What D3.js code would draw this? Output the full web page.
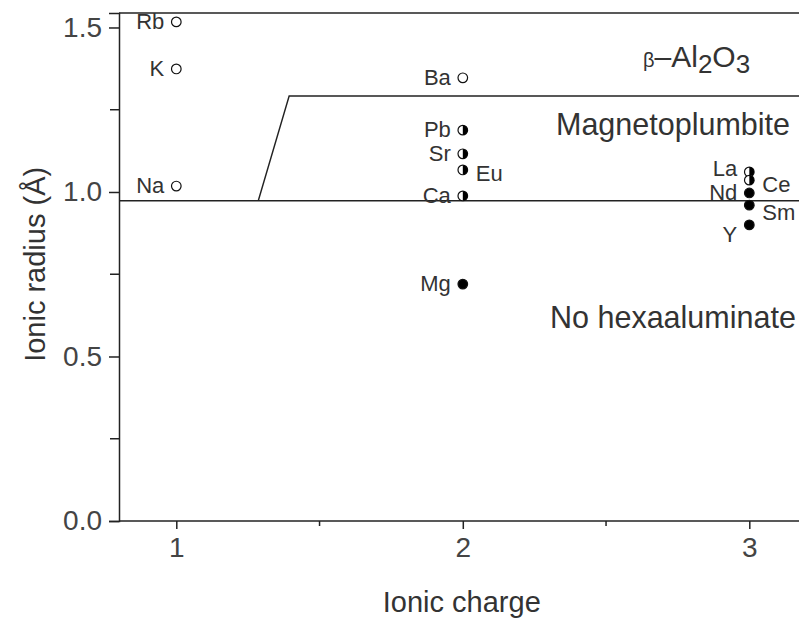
<!DOCTYPE html>
<html>
<head>
<meta charset="utf-8">
<script src="https://cdn.jsdelivr.net/npm/d3@7"></script>
<style>
  html, body { margin: 0; padding: 0; background: #fff; }
  svg { display: block; font-family: "Liberation Sans", Arial, sans-serif; }
</style>
</head>
<body>
<svg id="chart" width="799" height="624"></svg>
<script>
// Cations: charge, ionic radius (Å), marker fill type
const ions    = ["Rb", "K", "Na", "Ba", "Pb", "Sr", "Eu", "Ca", "Mg", "La", "Ce", "Nd", "Sm", "Y"];
const charges = [1, 1, 1, 2, 2, 2, 2, 2, 2, 3, 3, 3, 3, 3];
const radii   = [1.517, 1.374, 1.018, 1.347, 1.188, 1.116, 1.067, 0.988, 0.720, 1.061, 1.036, 0.997, 0.960, 0.900];
const fills   = ["open", "open", "open", "open", "half", "half", "half", "half", "full", "half", "half", "full", "full", "full"];
const labelSide = ["left", "left", "left", "left", "left", "left", "right", "left", "left", "left", "right", "left", "right", "left"];

// Field boundaries
const lowerBoundary = [[0.8, 0.973], [3.2, 0.973]];
const upperBoundary = [[1.286, 0.973], [1.394, 1.292], [3.2, 1.292]];

const xTicks = [1, 2, 3];
const xMinor = [1.5, 2.5];
const yTicks = [0.0, 0.5, 1.0, 1.5];
const yMinor = [0.25, 0.75, 1.25];

const fieldLabels = ["Magnetoplumbite", "No hexaaluminate"];

const svg = d3.select("#chart");
const ink = "#222";
const textInk = "#333";

const x = d3.scaleLinear().domain([0.8, 3.2]).range([119, 806.6]);
const y = d3.scaleLinear().domain([0, 1.544]).range([521, 13]);

// Frame (top and left edges, right edge lies outside view)
svg.append("line").attr("x1", 119).attr("x2", 799).attr("y1", y(1.544)).attr("y2", y(1.544))
  .attr("stroke", ink).attr("stroke-width", 1.5);

// Axes
const gx = svg.append("g").attr("transform", `translate(0,${y(0)})`)
  .call(d3.axisBottom(x).tickValues(xTicks).tickFormat(d3.format("d")).tickSize(8).tickPadding(8));
gx.append("g").selectAll("line").data(xMinor).join("line")
  .attr("x1", d => x(d)).attr("x2", d => x(d)).attr("y1", 0).attr("y2", 5)
  .attr("stroke", ink).attr("stroke-width", 1.5);

const gy = svg.append("g").attr("transform", `translate(${x(0.8)},0)`)
  .call(d3.axisLeft(y).tickValues(yTicks).tickFormat(d3.format(".1f")).tickSize(10).tickPadding(7));
gy.append("g").selectAll("line").data(yMinor).join("line")
  .attr("x1", 0).attr("x2", -9).attr("y1", d => y(d)).attr("y2", d => y(d))
  .attr("stroke", ink).attr("stroke-width", 1.5);

[gx, gy].forEach(g => {
  g.select(".domain").attr("stroke", ink).attr("stroke-width", 1.5);
  g.selectAll(".tick line").attr("stroke", ink).attr("stroke-width", 1.5);
  g.selectAll(".tick text").attr("fill", "#444").style("font-size", "28px")
    .style("font-family", "'Liberation Sans', Arial, sans-serif");
});
gx.select(".domain").attr("d", `M${x(0.8)},0H799`);

// Axis titles
svg.append("text").attr("x", x(2) - 1).attr("y", 612).attr("text-anchor", "middle")
  .attr("fill", textInk).style("font-size", "29px").text("Ionic charge");
svg.append("text").attr("transform", `translate(45,${y(0.78)}) rotate(-90)`)
  .attr("text-anchor", "middle").attr("fill", textInk).style("font-size", "29px")
  .text("Ionic radius (Å)");

// Boundary lines
const line = d3.line().x(d => x(d[0])).y(d => y(d[1]));
svg.append("path").attr("d", line(lowerBoundary)).attr("fill", "none")
  .attr("stroke", ink).attr("stroke-width", 1.5);
svg.append("path").attr("d", line(upperBoundary)).attr("fill", "none")
  .attr("stroke", ink).attr("stroke-width", 1.5);

// Field labels
const beta = svg.append("text").attr("x", 643).attr("y", 67)
  .attr("fill", textInk).style("font-size", "30px");
beta.append("tspan").style("font-size", "20px").text("β");
beta.append("tspan").text("–Al");
beta.append("tspan").attr("dy", 6).style("font-size", "26px").text("2");
beta.append("tspan").attr("dy", -6).text("O");
beta.append("tspan").attr("dy", 6).style("font-size", "26px").text("3");

svg.append("text").attr("x", 556).attr("y", 135).attr("fill", textInk)
  .style("font-size", "30.5px").text(fieldLabels[0]);
svg.append("text").attr("x", 550).attr("y", 328).attr("fill", textInk)
  .style("font-size", "30.5px").text(fieldLabels[1]);

// Markers
const r = 4.8;
const pts = ions.map((n, i) => ({ name: n, c: charges[i], v: radii[i], f: fills[i], side: labelSide[i] }));
const mk = svg.append("g");
pts.forEach(p => {
  const cx = x(p.c), cy = y(p.v);
  const g = mk.append("g");
  g.append("circle").attr("cx", cx).attr("cy", cy).attr("r", r)
    .attr("fill", p.f === "full" ? "#000" : "#fff").attr("stroke", "#111").attr("stroke-width", 1.2);
  if (p.f === "half") {
    g.append("path")
      .attr("d", `M${cx},${cy - r}A${r},${r} 0 0 1 ${cx},${cy + r}Z`)
      .attr("fill", "#000");
  }
});

// Ion labels
const nudge = { Y: 10, Eu: 4, Ce: 5, Sm: 8, La: -3 };
svg.append("g").selectAll("text").data(pts).join("text")
  .attr("x", d => x(d.c) + (d.side === "left" ? -12 : 13))
  .attr("y", d => y(d.v) + 7 + (nudge[d.name] || 0))
  .attr("text-anchor", d => d.side === "left" ? "end" : "start")
  .attr("fill", textInk).style("font-size", "22px")
  .text(d => d.name);
</script>
</body>
</html>
